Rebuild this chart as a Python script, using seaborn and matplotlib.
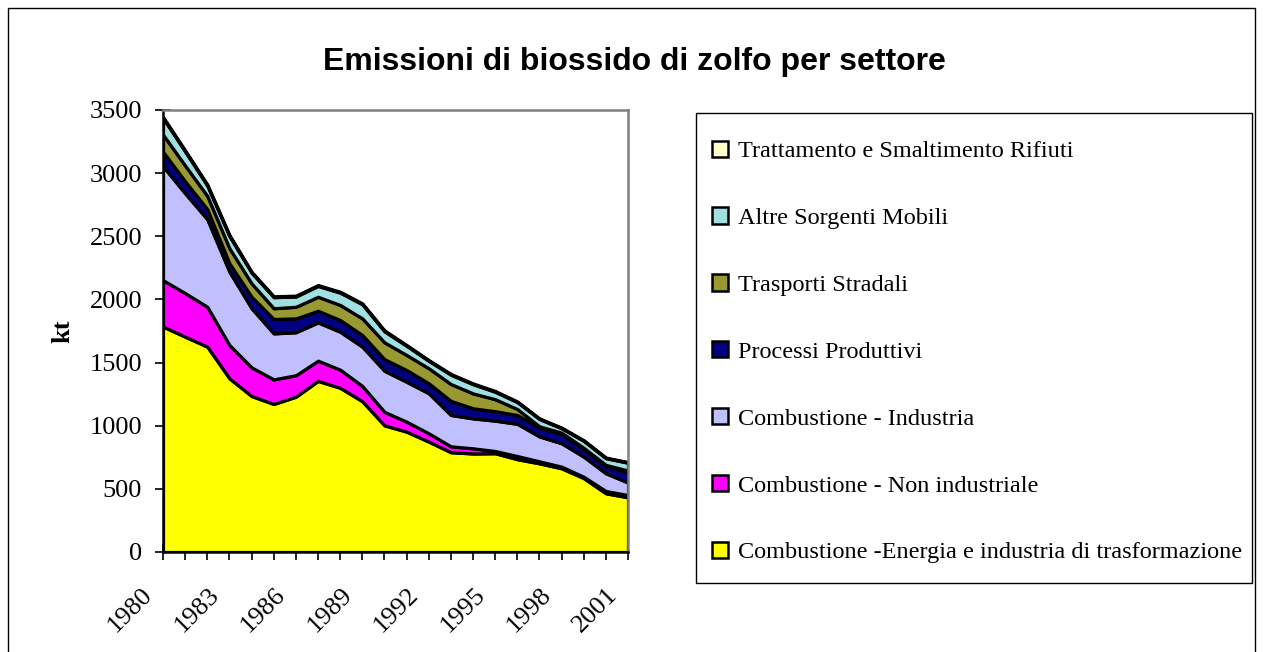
import pandas as pd
import matplotlib
matplotlib.use("Agg")
import matplotlib.pyplot as plt
from matplotlib.patches import Patch, Rectangle
from matplotlib.transforms import ScaledTranslation
import seaborn as sns

# values (kt), 1980-2001
years = list(range(1980, 2002))
energia = [1785, 1705, 1626, 1375, 1235, 1172, 1230, 1355, 1300, 1194, 1003,
           953, 874, 790, 780, 782, 735, 702, 663, 585, 465, 433]
non_ind = [368, 345, 316, 264, 227, 195, 170, 160, 144, 121, 107,
           79, 66, 47, 41, 18, 25, 16, 13, 11, 18, 18]
industria = [902, 790, 693, 580, 468, 364, 340, 303, 300, 311, 325,
             316, 317, 248, 237, 240, 255, 197, 185, 159, 140, 99]
processi = [115, 95, 80, 67, 91, 114, 110, 92, 93, 92, 92,
            93, 79, 112, 80, 75, 70, 70, 74, 60, 57, 82]
trasporti = [135, 125, 105, 119, 106, 85, 92, 111, 119, 132, 133,
             119, 119, 133, 118, 95, 47, 10, 10, 10, 10, 13]
altre = [132, 112, 82, 97, 85, 88, 81, 86, 98, 112, 88,
         73, 59, 74, 73, 59, 55, 58, 35, 55, 53, 62]
rifiuti = [8, 8, 8, 8, 7, 7, 7, 7, 7, 7, 7,
           6, 6, 6, 6, 6, 5, 5, 5, 5, 5, 5]

# legend order, top to bottom (seaborn stacks the last level at the bottom)
sectors = ["Trattamento e Smaltimento Rifiuti",
           "Altre Sorgenti Mobili",
           "Trasporti Stradali",
           "Processi Produttivi",
           "Combustione - Industria",
           "Combustione - Non industriale",
           "Combustione -Energia e industria di trasformazione"]
series = [rifiuti, altre, trasporti, processi, industria, non_ind, energia]
colors = ["#FFFFCC", "#A0E0E0", "#999933", "#000080",
          "#C0C0FF", "#FF00FF", "#FFFF00"]

rows = []
for name, vals in zip(sectors, series):
    for y, v in zip(years, vals):
        rows.append({"anno": y, "kt": v, "settore": name})
df = pd.DataFrame(rows)

sns.set_style("white")
plt.rcParams["font.family"] = ["Liberation Serif", "DejaVu Serif"]
plt.rcParams["text.color"] = "black"
plt.rcParams["axes.labelcolor"] = "black"
plt.rcParams["xtick.color"] = "black"
plt.rcParams["ytick.color"] = "black"

fig = plt.figure(figsize=(12.63, 6.52), dpi=100)
ax = fig.add_axes([163 / 1263, 100 / 652, 465 / 1263, 442 / 652])

sns.histplot(data=df, x="anno", weights="kt", hue="settore",
             hue_order=sectors, palette=dict(zip(sectors, colors)),
             multiple="stack", element="poly", discrete=True,
             alpha=1, edgecolor="black", linewidth=2.3, legend=False, ax=ax)

ax.set_xlim(1980, 2001)
ax.set_ylim(0, 3500)
ax.set_yticks(range(0, 3501, 500))
ax.set_xticks(years)
ax.set_xticklabels([str(y) if (y - 1980) % 3 == 0 else "" for y in years])
ax.tick_params(axis="both", direction="inout", length=12, width=1.2,
               color="black", labelsize=19, bottom=True, left=True)
ax.tick_params(axis="x", pad=17)
ax.tick_params(axis="y", pad=9)
for lab in ax.get_xticklabels():
    lab.set_rotation(45)
    lab.set_ha("right")
    lab.set_va("top")
    lab.set_transform(lab.get_transform()
                      + ScaledTranslation(-0.06, 0, fig.dpi_scale_trans))

ax.set_xlabel("")
ax.set_ylabel("kt", fontsize=19, fontweight="bold", labelpad=11)

for side in ["left", "bottom"]:
    ax.spines[side].set_color("black")
    ax.spines[side].set_linewidth(1.8)
for side in ["top", "right"]:
    ax.spines[side].set_color("#808080")
    ax.spines[side].set_linewidth(1.8)

fig.text(634 / 1263, 1 - 62 / 652, "Emissioni di biossido di zolfo per settore",
         ha="center", va="center", fontsize=23, fontweight="bold",
         family=["Liberation Sans", "DejaVu Sans"])

handles = [Patch(facecolor=c, edgecolor="black", linewidth=1.8) for c in colors]
leg = fig.legend(handles, sectors, loc="center left",
                 bbox_to_anchor=(712 / 1263, 1 - 352 / 652),
                 fontsize=17.5, frameon=False, borderpad=0,
                 labelspacing=1.86, handlelength=0.65, handleheight=0.65,
                 handletextpad=0.4, borderaxespad=0)

# legend box and outer chart frame
fig.add_artist(Rectangle((696 / 1263, 1 - 583 / 652), 556 / 1263, 470 / 652,
                         transform=fig.transFigure, fill=False,
                         edgecolor="black", linewidth=1.0))
fig.add_artist(Rectangle((8 / 1263, -0.01), 1247 / 1263, 1.0 - 8 / 652 + 0.01,
                         transform=fig.transFigure, fill=False,
                         edgecolor="black", linewidth=1.0))

fig.savefig("out.png", dpi=100)
